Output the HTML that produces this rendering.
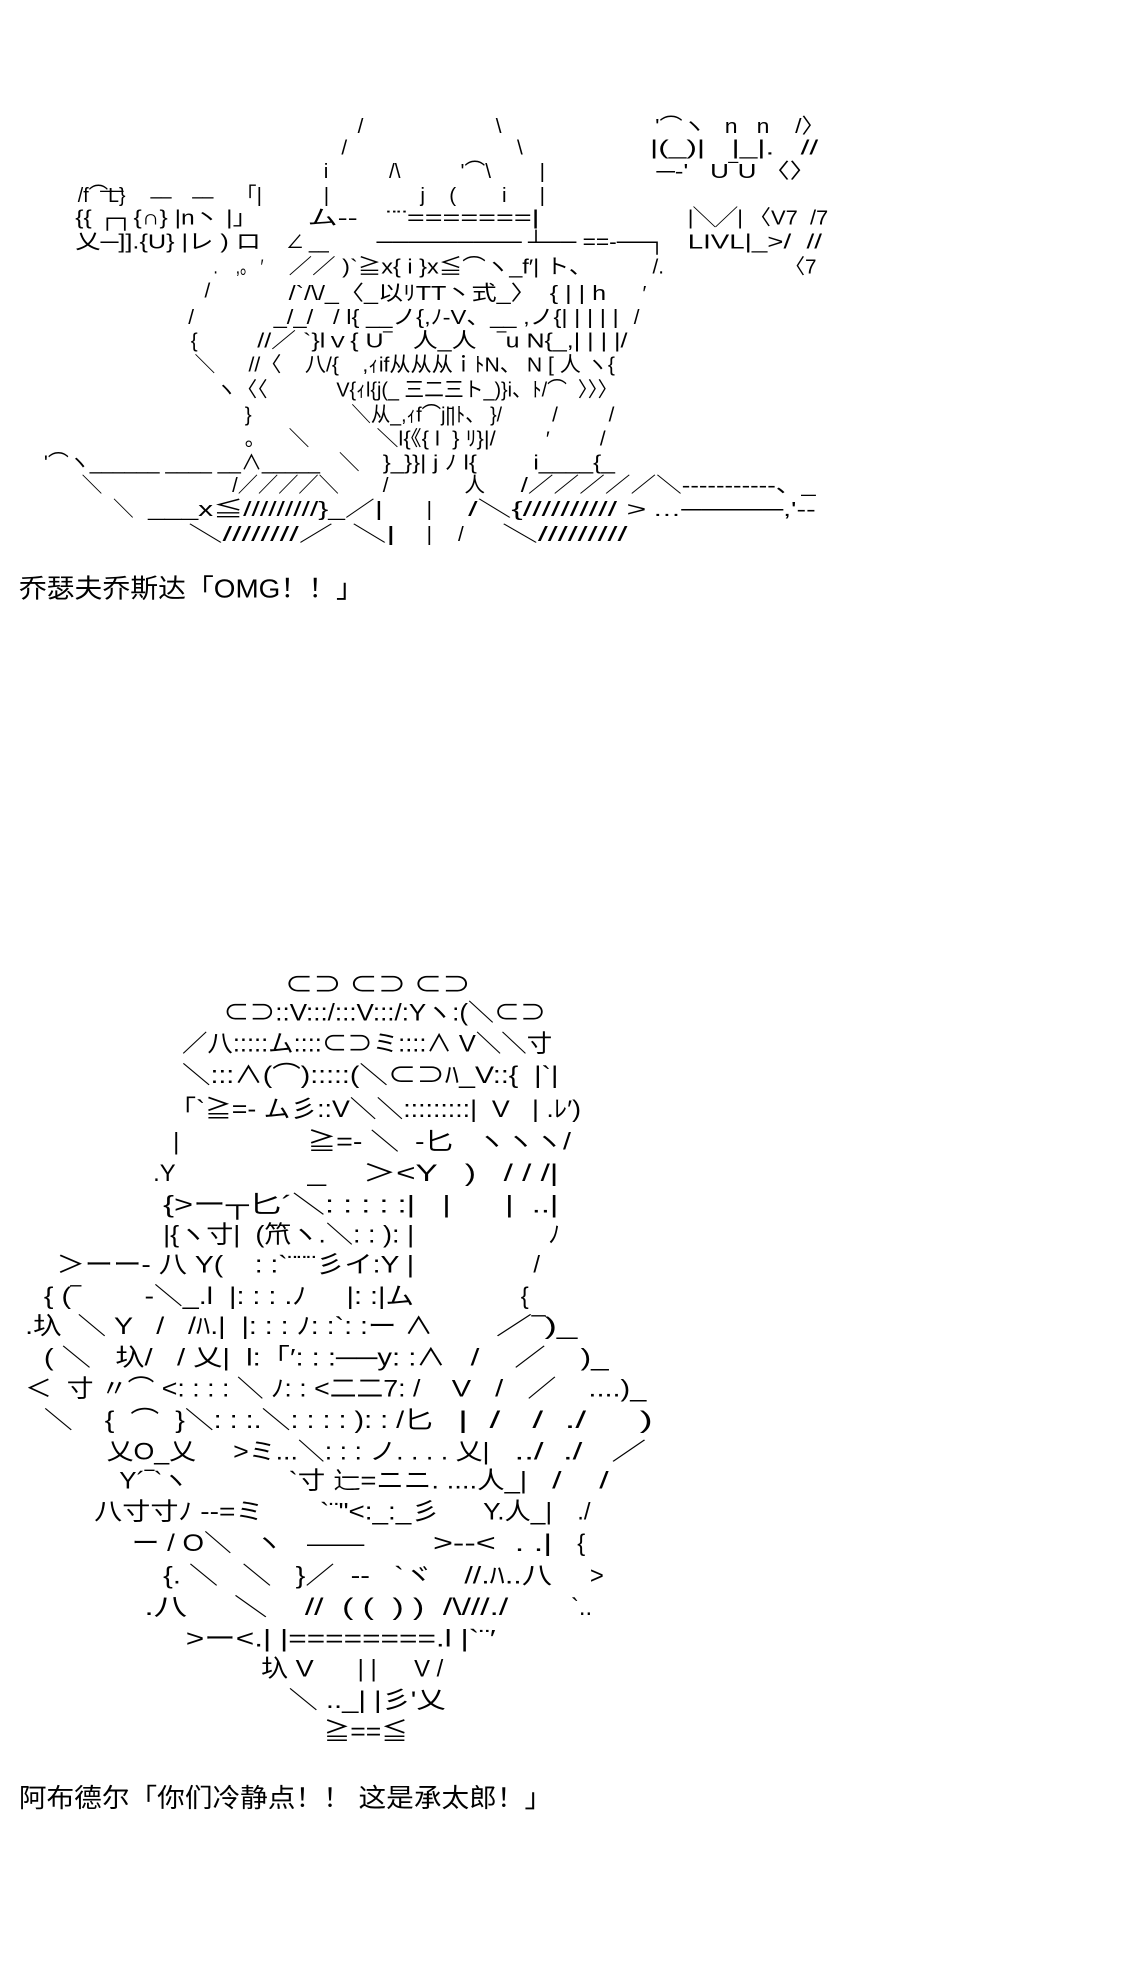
<!DOCTYPE html>
<html><head><meta charset="utf-8"><style>
html,body{margin:0;padding:0;background:#fff;}
svg{display:block;}
text{font-family:"Liberation Sans","Noto Sans CJK SC",sans-serif;fill:#000;white-space:pre;}
.t{font-size:16.5px;}
.b{font-size:19px;}
.c{font-size:21px;}
</style></head><body>
<svg width="1142" height="1974" viewBox="0 0 910 1573" xmlns="http://www.w3.org/2000/svg">
<g class="t" lengthAdjust="spacingAndGlyphs">
<text class="t" x="285" y="106">/</text>
<text class="t" x="395" y="106">\</text>
<text class="t" x="522" y="106" textLength="135" lengthAdjust="spacingAndGlyphs">'⌒ヽ   n   n    /〉</text>
<text class="t" x="272" y="123">/</text>
<text class="t" x="412" y="123">\</text>
<text class="t" x="518" y="123" textLength="134" lengthAdjust="spacingAndGlyphs">|(_)|   |_|.   //</text>
<text class="t" x="258" y="142">i</text>
<text class="t" x="310" y="142">/\</text>
<text class="t" x="367" y="142">'⌒\</text>
<text class="t" x="430" y="142">|</text>
<text class="t" x="523" y="142" textLength="127" lengthAdjust="spacingAndGlyphs">─-'   U‾U 〈〉</text>
<text class="t" x="80" y="150">__</text>
<text class="t" x="120" y="155" textLength="50" lengthAdjust="spacingAndGlyphs">__    __</text>
<text class="t" x="62" y="161" textLength="38" lengthAdjust="spacingAndGlyphs">/f⌒L}</text>
<text class="t" x="188" y="161">「|</text>
<text class="t" x="258" y="161">|</text>
<text class="t" x="335" y="161">j</text>
<text class="t" x="358" y="161">(</text>
<text class="t" x="400" y="161">i</text>
<text class="t" x="430" y="161">|</text>
<text class="t" x="60" y="179" textLength="145" lengthAdjust="spacingAndGlyphs">{{ ┌┐{∩} |n丶 |」</text>
<text class="t" x="245" y="179" textLength="40" lengthAdjust="spacingAndGlyphs">ム--</text>
<text class="t" x="308" y="179" textLength="122" lengthAdjust="spacingAndGlyphs">¨¨=======|</text>
<text class="t" x="548" y="179" textLength="112" lengthAdjust="spacingAndGlyphs">|╲╱| 〈V7  /7</text>
<text class="t" x="60" y="198" textLength="148" lengthAdjust="spacingAndGlyphs">乂─]].{U} |レ ) ロ</text>
<text class="t" x="228" y="198" textLength="34" lengthAdjust="spacingAndGlyphs">∠ __</text>
<text class="t" x="300" y="198" textLength="230" lengthAdjust="spacingAndGlyphs">───────── ┴── ==-──┐</text>
<text class="t" x="548" y="198" textLength="107" lengthAdjust="spacingAndGlyphs">LIVL|_>/  //</text>
<text class="t" x="170" y="218" textLength="40" lengthAdjust="spacingAndGlyphs">.    ,。 ′</text>
<text class="t" x="230" y="218" textLength="242" lengthAdjust="spacingAndGlyphs">／／ )`≧x{ i }x≦⌒ヽ_f′| ト、</text>
<text class="t" x="520" y="218">/.</text>
<text class="t" x="625" y="218">〈7</text>
<text class="t" x="163" y="237">/</text>
<text class="t" x="230" y="239" textLength="253" lengthAdjust="spacingAndGlyphs">/`/\/_〈_以ﾘTT丶式_〉  { | | h</text>
<text class="t" x="512" y="239">′</text>
<text class="t" x="150" y="258">/</text>
<text class="t" x="218" y="258" textLength="275" lengthAdjust="spacingAndGlyphs">_/_/   / l{ __ノ{,ﾉ-V、__ ,ノ{| | | | |</text>
<text class="t" x="505" y="258">/</text>
<text class="t" x="152" y="277">{</text>
<text class="t" x="205" y="277" textLength="295" lengthAdjust="spacingAndGlyphs">//／ `}lｖ{ U‾   人_人   ‾u N{_,| | | |/</text>
<text class="t" x="155" y="296">＼</text>
<text class="t" x="198" y="296" textLength="292" lengthAdjust="spacingAndGlyphs">//〈    八/{    ,ｨif从从从ｉﾄN、 N [ 人 ヽ{</text>
<text class="t" x="172" y="316">ヽ〈〈</text>
<text class="t" x="268" y="316" textLength="224" lengthAdjust="spacingAndGlyphs">V{ｨl{j(_ 三二三ト_)}i、ﾄ/⌒  〉〉〉</text>
<text class="t" x="195" y="336">}</text>
<text class="t" x="280" y="336" textLength="120" lengthAdjust="spacingAndGlyphs">＼从_,ｨf⌒j|̄|ﾄ、 }/</text>
<text class="t" x="440" y="336">/</text>
<text class="t" x="485" y="336">/</text>
<text class="t" x="195" y="355">。</text>
<text class="t" x="230" y="355">＼</text>
<text class="t" x="300" y="355" textLength="95" lengthAdjust="spacingAndGlyphs">＼l{《{ l  } ﾘ}|/</text>
<text class="t" x="435" y="355">′</text>
<text class="t" x="478" y="355">/</text>
<text class="t" x="35" y="374" textLength="220" lengthAdjust="spacingAndGlyphs">'⌒ヽ______ ____ __∧_____</text>
<text class="t" x="270" y="374">＼</text>
<text class="t" x="305" y="374" textLength="75" lengthAdjust="spacingAndGlyphs">}_}}| j ﾉ l{</text>
<text class="t" x="425" y="374" textLength="65" lengthAdjust="spacingAndGlyphs">i____{_</text>
<text class="t" x="65" y="392">＼</text>
<text class="t" x="185" y="392" textLength="85" lengthAdjust="spacingAndGlyphs">/／／／／＼</text>
<text class="t" x="305" y="392">/</text>
<text class="t" x="370" y="392">人</text>
<text class="t" x="415" y="392" textLength="235" lengthAdjust="spacingAndGlyphs">/／／／／／＼-----------、_</text>
<text class="t" x="90" y="411">＼</text>
<text class="t" x="118" y="411" textLength="187" lengthAdjust="spacingAndGlyphs">___x≦/////////}_／|</text>
<text class="t" x="340" y="411">|</text>
<text class="t" x="373" y="411" textLength="142" lengthAdjust="spacingAndGlyphs">/＼{////////// &gt;</text>
<text class="t" x="520" y="411" textLength="130" lengthAdjust="spacingAndGlyphs">…─────,'‐‐</text>
<text class="t" x="150" y="431" textLength="165" lengthAdjust="spacingAndGlyphs">＼////////／  ＼|</text>
<text class="t" x="340" y="431">|</text>
<text class="t" x="365" y="431">/</text>
<text class="t" x="400" y="431" textLength="100" lengthAdjust="spacingAndGlyphs">＼/////////</text>
</g>
<text class="c" x="15" y="476" textLength="275" lengthAdjust="spacingAndGlyphs">乔瑟夫乔斯达「OMG！！」</text>

<text class="b" x="227" y="791" textLength="148" lengthAdjust="spacingAndGlyphs">⊂⊃ ⊂⊃ ⊂⊃</text>
<text class="b" x="178" y="813" textLength="257" lengthAdjust="spacingAndGlyphs">⊂⊃::V:::/:::V:::/:Yヽ:(＼⊂⊃</text>
<text class="b" x="145" y="838" textLength="295" lengthAdjust="spacingAndGlyphs">／八:::::ム::::⊂⊃ミ::::∧ V＼＼寸</text>
<text class="b" x="145" y="863" textLength="300" lengthAdjust="spacingAndGlyphs">＼:::∧(⌒):::::(＼⊂⊃ﾊ_V::{  |`|</text>
<text class="b" x="135" y="890" textLength="328" lengthAdjust="spacingAndGlyphs">「`≧=‐ ム彡::V＼＼:::::::::|  V   | .ﾚ′)</text>
<text class="b" x="138" y="916">|</text>
<text class="b" x="245" y="916" textLength="210" lengthAdjust="spacingAndGlyphs">≧=‐ ＼  ‐匕   ヽヽヽ/</text>
<text class="b" x="122" y="941">.Y</text>
<text class="b" x="245" y="941" textLength="200" lengthAdjust="spacingAndGlyphs">_    ＞&lt;Y   )   / / /|</text>
<text class="b" x="130" y="966" textLength="315" lengthAdjust="spacingAndGlyphs">{&gt;ー┬匕´＼: : : : :|   |      |  ..|</text>
<text class="b" x="130" y="990" textLength="200" lengthAdjust="spacingAndGlyphs">|{ヽ寸|  (笊ヽ.＼: : ): |</text>
<text class="b" x="437" y="990">ﾉ</text>
<text class="b" x="45" y="1014" textLength="285" lengthAdjust="spacingAndGlyphs">＞ーー‐ 八 Y(    : :`¨¨¨彡イ:Y |</text>
<text class="b" x="425" y="1014">/</text>
<text class="b" x="35" y="1039" textLength="295" lengthAdjust="spacingAndGlyphs">{ (‾        ‐＼_.l  |: : : .ﾉ     |: :|ム</text>
<text class="b" x="415" y="1039">{</text>
<text class="b" x="20" y="1063" textLength="325" lengthAdjust="spacingAndGlyphs">.圦  ＼ Y   /   /ﾊ.|  |: : : ﾉ: :`: :ー ∧</text>
<text class="b" x="395" y="1063" textLength="65" lengthAdjust="spacingAndGlyphs">／‾)_</text>
<text class="b" x="35" y="1088" textLength="320" lengthAdjust="spacingAndGlyphs">( ＼   圦/   / 乂|  l:「′: : :──y: :∧</text>
<text class="b" x="375" y="1088" textLength="110" lengthAdjust="spacingAndGlyphs">/    ／    )_</text>
<text class="b" x="20" y="1113" textLength="315" lengthAdjust="spacingAndGlyphs">＜  寸 〃⌒ &lt;: : : : ＼ ﾉ: : &lt;二二7: /</text>
<text class="b" x="360" y="1113" textLength="155" lengthAdjust="spacingAndGlyphs">V   /   ／    ....)_</text>
<text class="b" x="35" y="1138" textLength="310" lengthAdjust="spacingAndGlyphs">＼    {  ⌒  }＼: : :.＼: : : : ): : /匕</text>
<text class="b" x="365" y="1138" textLength="155" lengthAdjust="spacingAndGlyphs">|  /   /  ./     )</text>
<text class="b" x="85" y="1163" textLength="305" lengthAdjust="spacingAndGlyphs">乂O_乂     &gt;ミ...＼: : : ノ. . . . 乂|</text>
<text class="b" x="410" y="1163" textLength="105" lengthAdjust="spacingAndGlyphs">../  ./   ／</text>
<text class="b" x="95" y="1186" textLength="55" lengthAdjust="spacingAndGlyphs">Y´‾`ヽ</text>
<text class="b" x="230" y="1186" textLength="190" lengthAdjust="spacingAndGlyphs">`寸 辷=ニニ. ....人_|</text>
<text class="b" x="440" y="1186" textLength="45" lengthAdjust="spacingAndGlyphs">/    /</text>
<text class="b" x="75" y="1211" textLength="135" lengthAdjust="spacingAndGlyphs">八寸寸ﾉ --=ミ</text>
<text class="b" x="255" y="1211" textLength="95" lengthAdjust="spacingAndGlyphs">`¨&quot;&lt;:_:_彡</text>
<text class="b" x="385" y="1211" textLength="55" lengthAdjust="spacingAndGlyphs">Y.人_|</text>
<text class="b" x="460" y="1211">./</text>
<text class="b" x="105" y="1236" textLength="120" lengthAdjust="spacingAndGlyphs">ー / O＼   ヽ</text>
<text class="b" x="245" y="1228" textLength="45" lengthAdjust="spacingAndGlyphs">___</text>
<text class="b" x="345" y="1236" textLength="95" lengthAdjust="spacingAndGlyphs">&gt;--&lt;  . .|</text>
<text class="b" x="460" y="1236">{</text>
<text class="b" x="130" y="1262" textLength="215" lengthAdjust="spacingAndGlyphs">{. ＼   ＼   }／  ‐‐   `ヾ</text>
<text class="b" x="370" y="1262" textLength="70" lengthAdjust="spacingAndGlyphs">//.ﾊ..八</text>
<text class="b" x="470" y="1262">&gt;</text>
<text class="b" x="115" y="1287" textLength="290" lengthAdjust="spacingAndGlyphs">.八     ＼    //  ( (  ) )  /\///./</text>
<text class="b" x="455" y="1287">`..</text>
<text class="b" x="148" y="1312" textLength="247" lengthAdjust="spacingAndGlyphs">&gt;ー&lt;.| |========.l |`¨′</text>
<text class="b" x="208" y="1336" textLength="42" lengthAdjust="spacingAndGlyphs">圦 V</text>
<text class="b" x="285" y="1336">| |</text>
<text class="b" x="330" y="1336">V /</text>
<text class="b" x="230" y="1361" textLength="125" lengthAdjust="spacingAndGlyphs">＼ .._| |彡'乂</text>
<text class="b" x="258" y="1386" textLength="67" lengthAdjust="spacingAndGlyphs">≧==≦</text>
<text class="c" x="15" y="1440" textLength="425" lengthAdjust="spacingAndGlyphs">阿布德尔「你们冷静点！！ 这是承太郎！」</text>
</svg>
</body></html>
